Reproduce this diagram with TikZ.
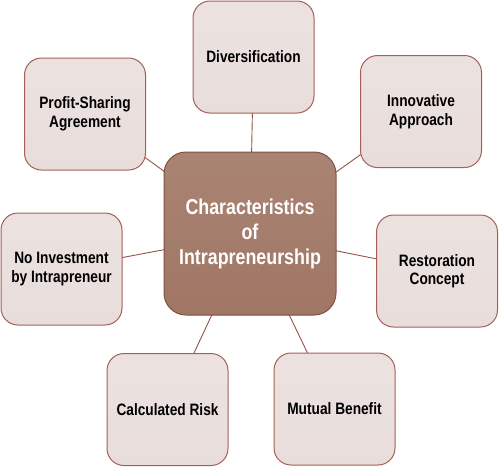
\documentclass[tikz,border=0pt]{standalone}
\usepackage{fontspec}
\newfontfamily\narrowfont{Liberation Sans}[FakeStretch=0.83]
\usepackage{tikz}
\usetikzlibrary{positioning, backgrounds}

\definecolor{hubfill}{RGB}{160,118,100}
\definecolor{hubedge}{RGB}{128,80,66}
\definecolor{satfill}{RGB}{232,221,218}
\definecolor{satedge}{RGB}{165,96,86}
\definecolor{linkcol}{RGB}{150,82,68}

\begin{document}
\begin{tikzpicture}[
    x=1pt, y=-1pt,
    satbox/.style={
        draw=satedge,
        line width=1pt,
        rectangle,
        rounded corners=17pt,
        align=center,
        minimum width=121pt,
        minimum height=112pt,
        top color=satfill!85!white,
        bottom color=satfill,
        text=black,
        font=\narrowfont\bfseries\fontsize{16.5}{18.5}\selectfont
    },
    hubbox/.style={
        satbox,
        draw=hubedge,
        rounded corners=22pt,
        minimum width=172pt,
        minimum height=163pt,
        top color=hubfill!90!white,
        bottom color=hubfill,
        text=white,
        font=\narrowfont\bfseries\fontsize{21.5}{25}\selectfont
    },
    link/.style={draw=linkcol, line width=0.9pt}
]
\useasboundingbox (0,0) rectangle (500,467);

% Center node
\node[hubbox] (hub) at (250,233.5) {Characteristics\\of\\Intrapreneurship};

% Outer nodes
\node[satbox] (diver) at (253.5,57) {Diversification};
\node[satbox] (profit) at (85,114) {Profit-Sharing\\Agreement};
\node[satbox] (innov) at (421,111.5) {Innovative\\Approach};
\node[satbox] (noinvest) at (61.5,269) {No Investment\\by Intrapreneur};
\node[satbox] (restore) at (437,271) {Restoration\\Concept};
\node[satbox] (calcrisk) at (167.5,409.5) {Calculated Risk};
\node[satbox] (mutual) at (334.5,409) {Mutual Benefit};

% Connectors
\begin{scope}[on background layer]
\foreach \sat in {diver, profit, innov, noinvest, restore, calcrisk, mutual}
    \draw[link] (hub.center) -- (\sat.center);
\end{scope}

\end{tikzpicture}
\end{document}
